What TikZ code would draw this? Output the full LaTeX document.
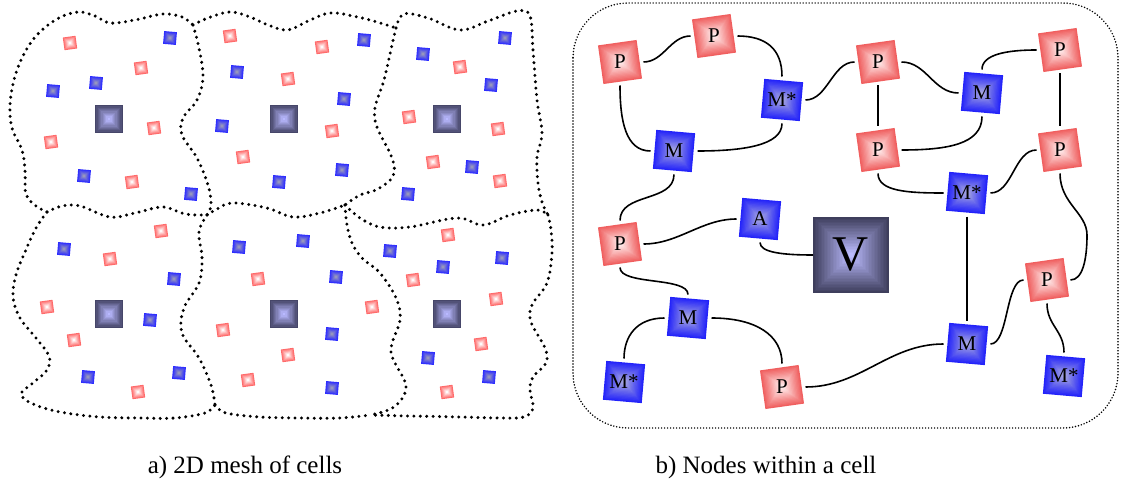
\documentclass[tikz,border=0pt]{standalone}
\usepackage{fontspec}
\setmainfont{Liberation Serif}

\definecolor{pedge}{RGB}{240,95,95}
\definecolor{pmid}{RGB}{255,238,238}
\definecolor{medge}{RGB}{35,35,250}
\definecolor{mmid}{RGB}{165,165,225}
\definecolor{vedge}{RGB}{62,62,92}
\definecolor{vmid}{RGB}{188,188,255}
\definecolor{sredge}{RGB}{255,105,105}
\definecolor{srmid}{RGB}{255,250,250}
\definecolor{sbedge}{RGB}{45,45,255}
\definecolor{sbmid}{RGB}{150,150,190}
\definecolor{bigedge}{RGB}{70,70,105}
\definecolor{bigmid}{RGB}{185,185,255}

% pyramid-shaded square: centre, angle, half side, edge colour, centre colour, steps
\newcommand\gsq[6]{%
  \begin{scope}[shift={#1},rotate=#2]
    \foreach \k in {0,...,#6}{%
      \pgfmathsetmacro\hs{#3*(1-\k/(#6+1))}%
      \pgfmathtruncatemacro\pc{100-100*\k/#6}%
      \fill[#4!\pc!#5] (-\hs,-\hs) rectangle (\hs,\hs);
    }
  \end{scope}}

% labelled boxes of the cell graph
\newcommand\pnode[3]{\gsq{(#2)}{8}{19.5}{pedge}{pmid}{14}\node[box] (#1) at (#2) {#3};}
\newcommand\mnode[3]{\gsq{(#2)}{-5}{19.5}{medge}{mmid}{14}\node[box] (#1) at (#2) {#3};}

% small particles of the mesh
\newcommand\redpt[1]{\gsq{(#1)}{8}{6.4}{sredge}{srmid}{6}}
\newcommand\bluept[1]{\gsq{(#1)}{-5}{6.4}{sbedge}{sbmid}{6}}
\newcommand\cellcentre[1]{\gsq{(#1)}{0}{14}{bigedge}{bigmid}{10}}

\tikzset{
  box/.style={minimum size=39pt, inner sep=0pt, outer sep=4pt,
              font=\fontsize{21}{21}\selectfont},
  link/.style={line width=1.6pt},
  meshline/.style={line width=3.3pt, dash pattern=on 0pt off 6.4pt, line cap=round},
  frame/.style={line width=1.7pt, dash pattern=on 0pt off 3pt, line cap=round},
  caption/.style={font=\fontsize{25}{25}\selectfont, inner sep=0pt},
}

\begin{document}
\begin{tikzpicture}[x=1pt, y=-1pt]
\useasboundingbox (0,0) rectangle (1122,484);

% ---------- a) mesh of cells ----------
\cellcentre{109,119} \cellcentre{284,119} \cellcentre{447,119}
\cellcentre{109,314} \cellcentre{284,314} \cellcentre{447,314}

\foreach \c in {{70,43},{141,68},{154,128},{51,142},{132,182},
                {230,36},{322,47},{288,79},{332,131},{243,157},
                {460,67},{409,117},{498,129},{433,162},{500,181},
                {161,231},{110,259},{47,307},{74,340},{138,392},
                {258,279},{223,330},{288,355},{248,380},
                {448,235},{413,280},{372,307},{496,299},{481,344},{447,392}}{
  \redpt{\c}
}
\foreach \c in {{170,38},{96,83},{53,91},{84,176},{191,194},
                {364,40},{237,72},{344,99},{222,126},{279,182},{342,170},
                {505,38},{423,54},{491,85},{472,167},{408,194},
                {64,249},{174,279},{150,320},{88,377},{179,373},
                {239,247},{303,241},{336,277},{332,334},{332,388},
                {390,251},{443,267},{502,258},{428,358},{489,377}}{
  \bluept{\c}
}

% cell boundaries
\draw[meshline] plot[smooth, tension=0.6] coordinates {(47,212) (36,206) (26,194) (25,170) (22,150) (12,128) (10,105) (14,80) (22,58) (36,36) (57,19) (78,12) (95,16) (110,23) (135,20) (163,14) (182,17) (193,25)};
\draw[meshline] plot[smooth, tension=0.6] coordinates {(193,25) (199,48) (203,77) (197,100) (183,118) (182,135) (197,158) (208,185) (211,205) (207,215)};
\draw[meshline] plot[smooth, tension=0.6] coordinates {(47,212) (62,206) (80,206) (110,217) (135,213) (163,207) (185,214) (207,215)};
\draw[meshline] plot[smooth, tension=0.6] coordinates {(47,212) (36,228) (25,252) (16,275) (13,297) (20,318) (36,338) (49,356) (47,370) (33,383) (21,394) (33,404) (60,412) (100,417) (140,418) (175,418) (205,413) (215,405)};
\draw[meshline] plot[smooth, tension=0.6] coordinates {(207,215) (199,232) (202,258) (199,283) (184,308) (182,333) (199,358) (211,385) (215,405)};
\draw[meshline] plot[smooth, tension=0.6] coordinates {(193,25) (208,18) (230,12) (250,17) (268,25) (288,30) (308,21) (330,13) (353,16) (377,22) (396,28)};
\draw[meshline] plot[smooth, tension=0.6] coordinates {(396,28) (392,45) (384,80) (375,108) (377,127) (392,158) (393,176) (378,189) (360,195) (345,205)};
\draw[meshline] plot[smooth, tension=0.6] coordinates {(396,28) (404,14) (428,18) (460,30) (488,21) (517,11) (530,16) (533,50) (537,100) (542,133) (537,157) (538,183) (542,202) (548,215)};
\draw[meshline] plot[smooth, tension=0.6] coordinates {(207,215) (217,209) (233,203) (267,208) (293,217) (320,213) (345,205)};
\draw[meshline] plot[smooth, tension=0.6] coordinates {(345,205) (360,218) (380,227) (410,227) (457,218) (483,225) (510,215) (537,210) (548,215)};
\draw[meshline] plot[smooth, tension=0.6] coordinates {(548,215) (551,230) (552,253) (547,283) (532,305) (531,322) (545,348) (546,363) (533,377) (530,390) (533,408) (524,417) (500,418) (460,417) (410,416) (370,415)};
\draw[meshline] plot[smooth, tension=0.6] coordinates {(345,205) (347,225) (352,243) (362,258) (380,273) (396,298) (400,320) (391,352) (406,386) (394,407) (370,415)};
\draw[meshline] plot[smooth, tension=0.6] coordinates {(215,405) (226,413) (260,417) (300,418) (340,418) (370,415)};

% ---------- b) nodes within a cell ----------
\draw[frame, rounded corners=55pt] (573,3) rectangle (1118,428);

\pnode{p1}{620,62}{P}
\pnode{p2}{714,36}{P}
\mnode{ms1}{782,100}{M*}
\mnode{m1}{674,151}{M}
\pnode{p3}{878,62}{P}
\mnode{m2}{982,93}{M}
\pnode{p4}{1060,50}{P}
\pnode{p5}{878,150}{P}
\pnode{p6}{1060,150}{P}
\mnode{ms2}{967,193}{M*}
\mnode{a}{760,219}{A}
\pnode{p7}{620,244}{P}
\mnode{m3}{688,318}{M}
\mnode{ms3}{624,382}{M*}
\pnode{p8}{782,387}{P}
\mnode{m4}{967,344}{M}
\pnode{p9}{1047,280}{P}
\mnode{ms4}{1064,376}{M*}

\gsq{(851,255)}{0}{38}{vedge}{vmid}{24}
\node[minimum size=76pt, inner sep=0pt, outer sep=0pt,
      font=\fontsize{50}{50}\selectfont] (v) at (851,255) {V};

\coordinate (bend) at (1087,235);

\draw[link] (p1.east) .. controls +(20,0) and +(-20,0) .. (p2.west);
\draw[link] (p2.east) .. controls +(28,0) and +(0,-28) .. (ms1.north);
\draw[link] (p1.south) .. controls +(0,35) and +(-25,0) .. (m1.west);
\draw[link] (m1.east) .. controls +(45,0) and +(0,22) .. (ms1.south);
\draw[link] (m1.south) .. controls +(0,28) and +(0,-28) .. (p7.north);
\draw[link] (ms1.east) .. controls +(22,0) and +(-22,0) .. (p3.west);
\draw[link] (p3.east) .. controls +(25,0) and +(-25,0) .. (m2.west);
\draw[link] (p3) -- (p5);
\draw[link] (m2.south) .. controls +(0,28) and +(45,0) .. (p5.east);
\draw[link] (m2.north) .. controls +(0,-15) and +(-30,0) .. (p4.west);
\draw[link] (p4) -- (p6);
\draw[link] (p5.south) .. controls +(0,18) and +(-35,0) .. (ms2.west);
\draw[link] (ms2.east) .. controls +(22,0) and +(-22,0) .. (p6.west);
\draw[link] (p6.south) .. controls +(0,30) and +(0,-22) .. (bend)
            .. controls +(0,25) and +(12,0) .. (p9.east);
\draw[link] (ms2) -- (m4);
\draw[link] (p7.east) .. controls +(35,0) and +(-35,0) .. (a.west);
\draw[link] (a.south) .. controls +(0,10) and +(-30,0) .. (v.west);
\draw[link] (p7.south) .. controls +(0,18) and +(0,-18) .. (m3.north);
\draw[link] (m3.west) .. controls +(-28,0) and +(0,-22) .. (ms3.north);
\draw[link] (m3.east) .. controls +(45,0) and +(0,-28) .. (p8.north);
\draw[link] (p8.east) .. controls +(55,0) and +(-55,0) .. (m4.west);
\draw[link] (m4.east) .. controls +(18,0) and +(-18,0) .. (p9.west);
\draw[link] (p9.south) .. controls +(0,22) and +(0,-22) .. (ms4.north);

% ---------- captions ----------
\node[caption] (capa) at (245,467) {a) 2D mesh of cells};
\node[caption] (capb) at (766,467) {b) Nodes within a cell};
\end{tikzpicture}
\end{document}
